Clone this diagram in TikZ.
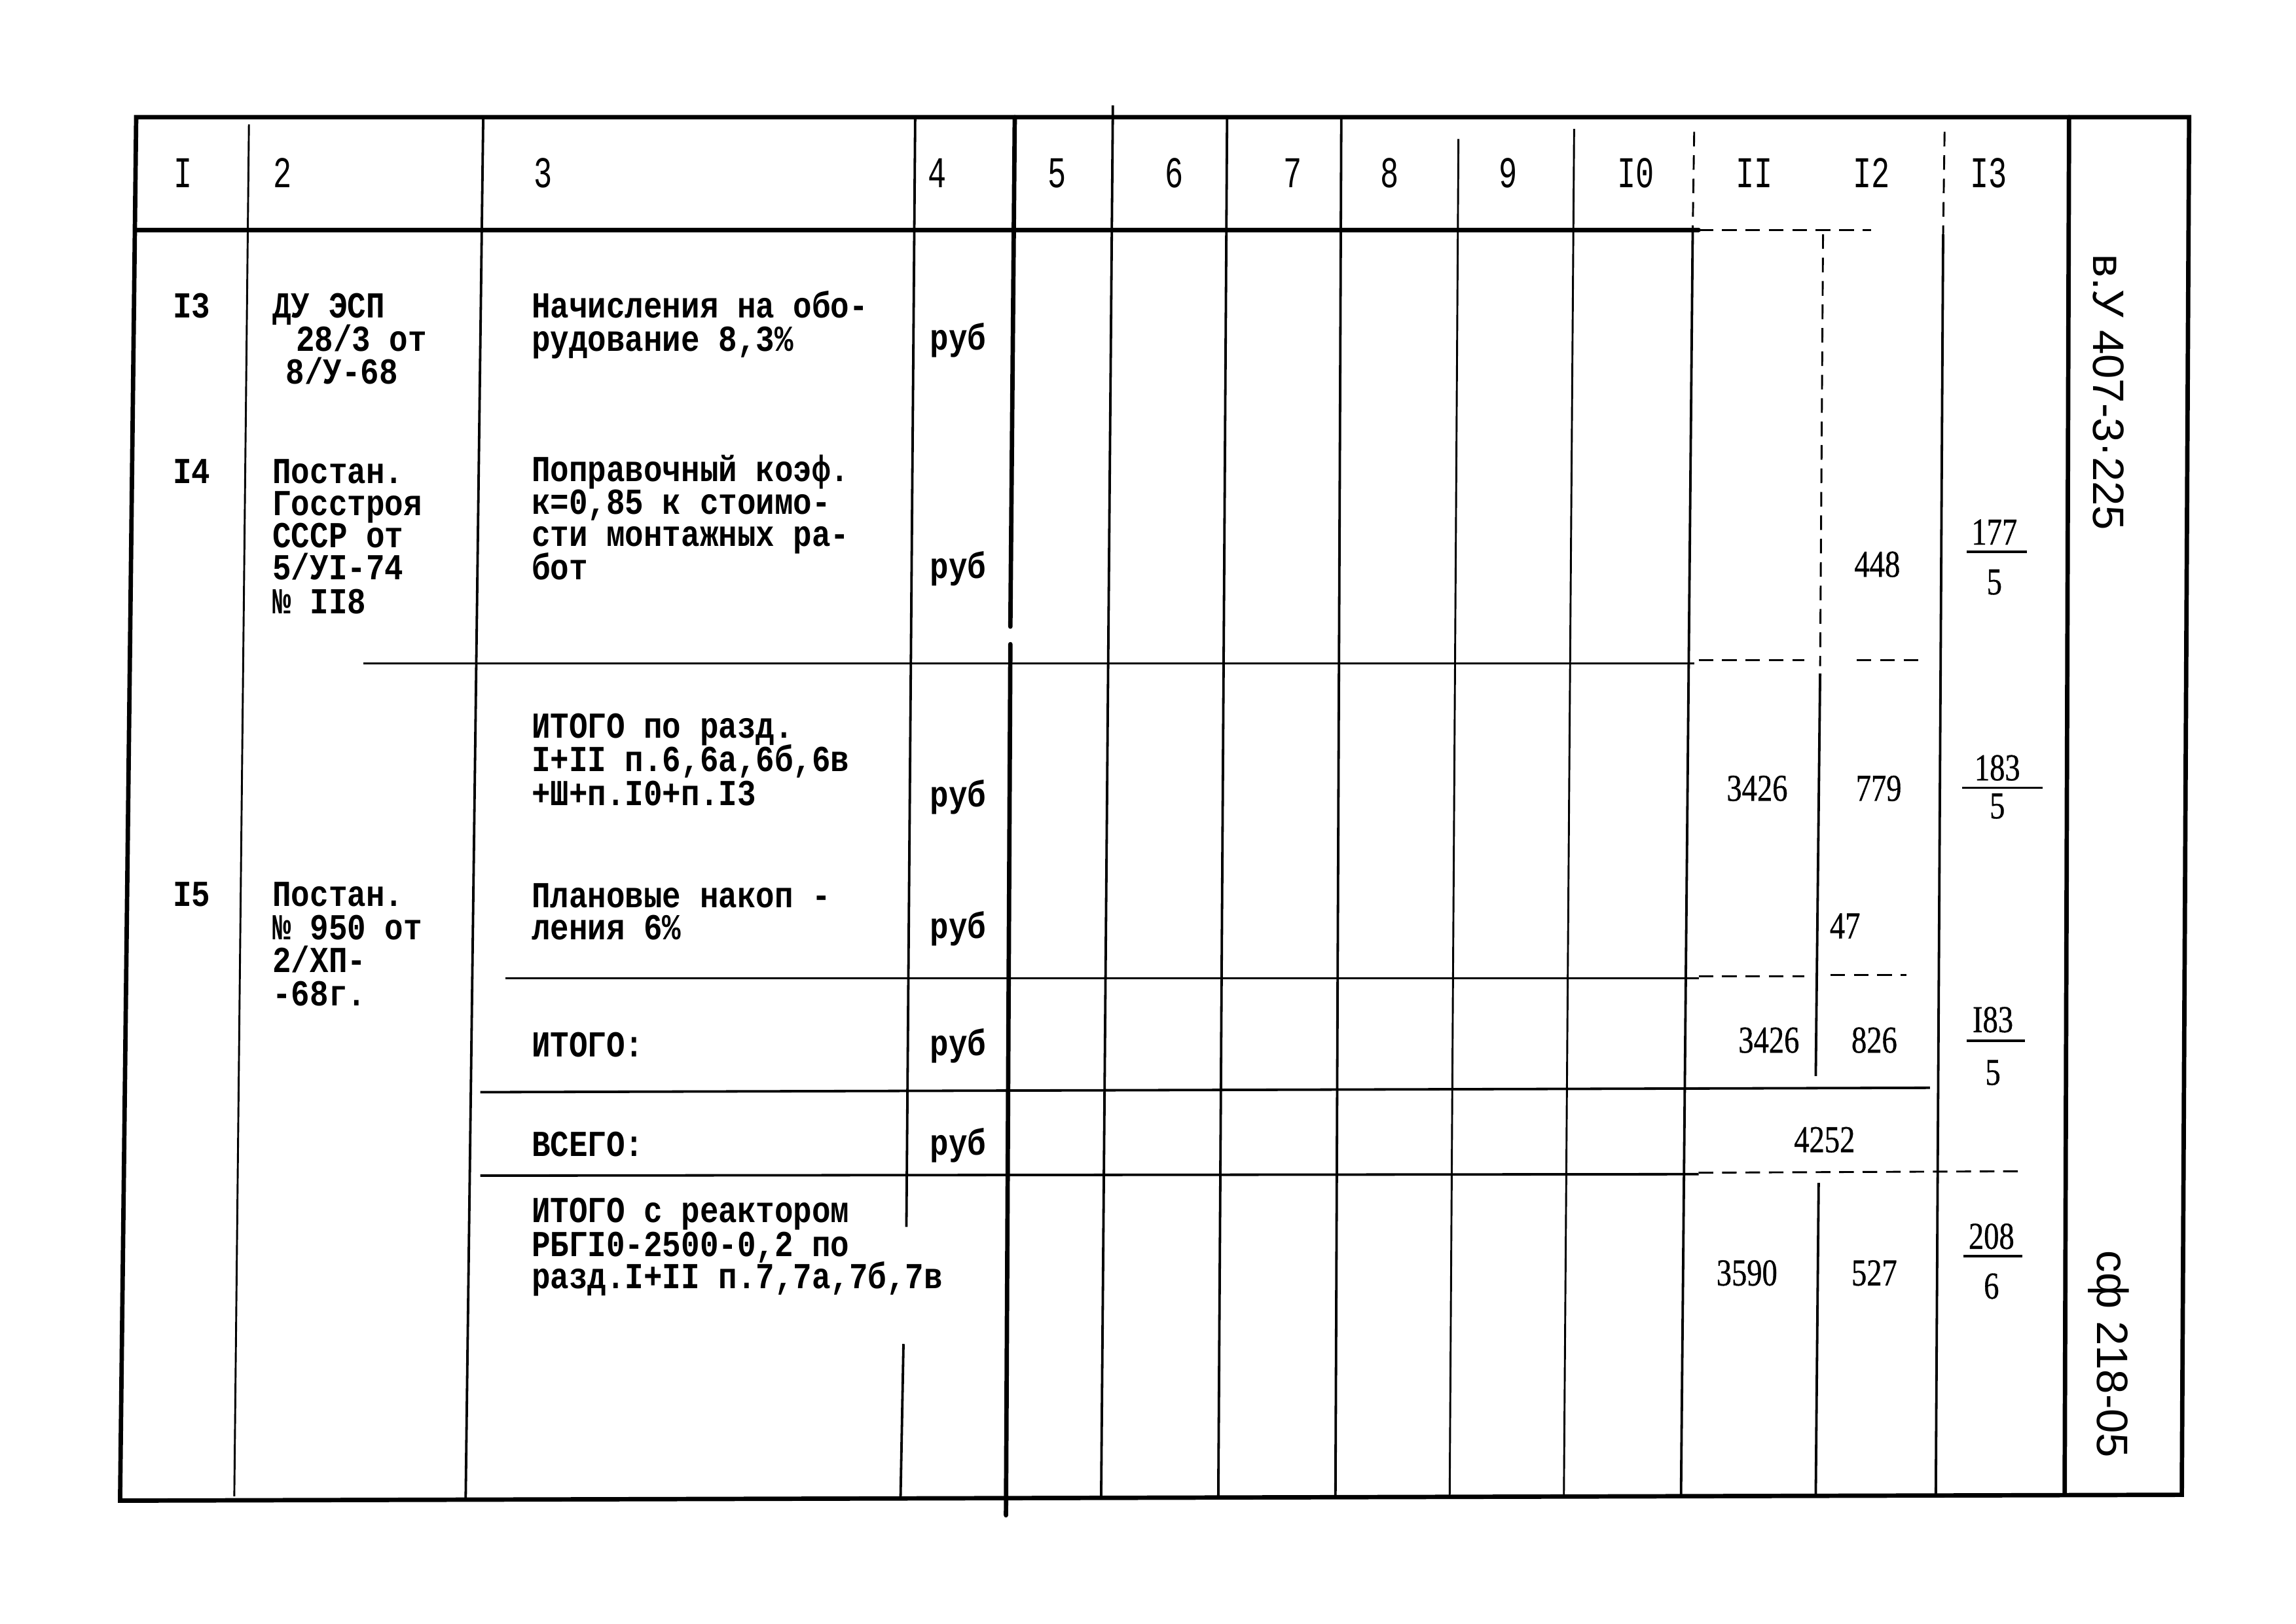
\documentclass[tikz,border=0pt]{standalone}
\usepackage{fontspec}
\newfontfamily\tw[FakeStretch=0.85]{Liberation Mono}
\newfontfamily\twh[FakeStretch=0.7]{Liberation Mono}
\newfontfamily\numf[FakeStretch=0.8,FakeBold=0.6]{Liberation Serif}
\newfontfamily\hand{Liberation Sans}
\begin{document}
\begin{tikzpicture}[x=1pt,y=-1pt,
  frameline/.style={line width=3pt, line cap=round},
  ruleline/.style={line width=1.7pt},
  thinline/.style={line width=1.3pt},
  dashline/.style={line width=1.3pt, dash pattern=on 10pt off 6pt},
  fracbar/.style={line width=1.6pt},
  hdr/.style={font=\twh\fontsize{30}{30}\selectfont, anchor=base, inner sep=0pt},
  txt/.style={font=\tw\bfseries\fontsize{25}{22}\selectfont, anchor=base west, inner sep=0pt},
  numtxt/.style={font=\numf\fontsize{26}{26}\selectfont, anchor=base, inner sep=0pt},
  sidetext/.style={font=\hand\fontsize{30}{30}\selectfont, rotate=-90, inner sep=0pt}]
\useasboundingbox (0,0) rectangle (1568,1109);
\fill[white] (0,0) rectangle (1568,1109);

% outer frame
\draw[frameline] (93,80) -- (1495,80) -- (1490,1021) -- (82,1025) -- cycle;
% header rule
\draw[frameline] (93,157) -- (1160,157);
\draw[dashline] (1160,157) -- (1278,157);

% vertical rules
\draw[thinline] (170,85) -- (160,1022);
\draw[ruleline] (330,80) -- (318,1024);
\draw[ruleline] (625,80) -- (619,838);
\draw[ruleline] (617,918) -- (615,1023);
\draw[frameline] (693,80) -- (690,428);
\draw[frameline] (690,440) -- (687,1035);
\draw[ruleline] (760,72) -- (752,1022);
\draw[ruleline] (838,80) -- (832,1022);
\draw[ruleline] (916,80) -- (912,1022);
\draw[thinline] (996,95) -- (990,1022);
\draw[thinline] (1075,88) -- (1068,1022);
\draw[dashline] (1157,90) -- (1156,157);
\draw[ruleline] (1156,157) -- (1148,1021);
\draw[dashline] (1245,160) -- (1243,455);
\draw[ruleline] (1243,460) -- (1240,735);
\draw[ruleline] (1242,808) -- (1240,1021);
\draw[dashline] (1328,90) -- (1327,160);
\draw[ruleline] (1327,160) -- (1322,1021);
\draw[frameline] (1413,80) -- (1410,1021);

% horizontal inner rules
\draw[thinline] (248,453) -- (1157,453);
\draw[dashline] (1160,451) -- (1232,451);
\draw[dashline] (1268,451) -- (1312,451);
\draw[thinline] (345,668) -- (1160,668);
\draw[dashline] (1160,667) -- (1232,667);
\draw[dashline] (1250,666) -- (1302,666);
\draw[ruleline] (328,746) -- (1318,743);
\draw[ruleline] (328,803) -- (1160,802);
\draw[dashline] (1160,801) -- (1380,800);

% header numbers
\node[hdr] (h1) at (125,128) {I};
\node[hdr] (h2) at (193,128) {2};
\node[hdr] (h3) at (371,128) {3};
\node[hdr] (h4) at (640,128) {4};
\node[hdr] (h5) at (722,128) {5};
\node[hdr] (h6) at (802,128) {6};
\node[hdr] (h7) at (883,128) {7};
\node[hdr] (h8) at (949,128) {8};
\node[hdr] (h9) at (1030,128) {9};
\node[hdr] (h10) at (1117,128) {I0};
\node[hdr] (h11) at (1198,128) {II};
\node[hdr] (h12) at (1278,128) {I2};
\node[hdr] (h13) at (1358,128) {I3};

% row 13
\node[txt] (r13n) at (118,217) {I3};
\node[txt] (r13b1) at (186,217) {ДУ ЭСП};
\node[txt] (r13b2) at (202,240) {28/3 от};
\node[txt] (r13b3) at (195,262) {8/У-68};
\node[txt] (r13c1) at (363,217) {Начисления на обо-};
\node[txt] (r13c2) at (363,240) {рудование 8,3\%};
\node[txt] (r13u) at (635,239) {руб};

% row 14
\node[txt] (r14n) at (118,330) {I4};
\node[txt] (r14b1) at (186,330) {Постан.};
\node[txt] (r14b2) at (186,352) {Госстроя};
\node[txt] (r14b3) at (186,374) {СССР от};
\node[txt] (r14b4) at (186,396) {5/УI-74};
\node[txt] (r14b5) at (186,419) {№ II8};
\node[txt] (r14c1) at (363,329) {Поправочный коэф.};
\node[txt] (r14c2) at (363,351) {к=0,85 к стоимо-};
\node[txt] (r14c3) at (363,373) {сти монтажных ра-};
\node[txt] (r14c4) at (363,396) {бот};
\node[txt] (r14u) at (635,395) {руб};
\node[numtxt] (r14v12) at (1282,394) {448};
\node[numtxt] (r14f1) at (1362,372) {177};
\draw[fracbar] (1343,377) -- (1384,377);
\node[numtxt] (r14f2) at (1362,406) {5};

% subtotal
\node[txt] (stc1) at (363,504) {ИТОГО по разд.};
\node[txt] (stc2) at (363,527) {I+II п.6,6а,6б,6в};
\node[txt] (stc3) at (363,550) {+Ш+п.I0+п.I3};
\node[txt] (stu) at (635,551) {руб};
\node[numtxt] (stv11) at (1200,547) {3426};
\node[numtxt] (stv12) at (1283,547) {779};
\node[numtxt] (stf1) at (1364,533) {183};
\draw[fracbar] (1340,538) -- (1395,538);
\node[numtxt] (stf2) at (1364,559) {5};

% row 15
\node[txt] (r15n) at (118,619) {I5};
\node[txt] (r15b1) at (186,619) {Постан.};
\node[txt] (r15b2) at (186,642) {№ 950 от};
\node[txt] (r15b3) at (186,664) {2/ХП-};
\node[txt] (r15b4) at (186,687) {-68г.};
\node[txt] (r15c1) at (363,620) {Плановые накоп -};
\node[txt] (r15c2) at (363,642) {ления 6\%};
\node[txt] (r15u) at (635,641) {руб};
\node[numtxt] (r15v12) at (1260,641) {47};

% itogo
\node[txt] (itc) at (363,722) {ИТОГО:};
\node[txt] (itu) at (635,721) {руб};
\node[numtxt] (itv11) at (1208,719) {3426};
\node[numtxt] (itv12) at (1280,719) {826};
\node[numtxt] (itf1) at (1361,705) {I83};
\draw[fracbar] (1343,711) -- (1383,711);
\node[numtxt] (itf2) at (1361,741) {5};

% vsego
\node[txt] (vsc) at (363,790) {ВСЕГО:};
\node[txt] (vsu) at (635,789) {руб};
\node[numtxt] (vsv) at (1246,787) {4252};

% itogo s reaktorom
\node[txt] (rkc1) at (363,835) {ИТОГО с реактором};
\node[txt] (rkc2) at (363,858) {РБГI0-2500-0,2 по};
\node[txt] (rkc3) at (363,880) {разд.I+II п.7,7а,7б,7в};
\node[numtxt] (rkv11) at (1193,878) {3590};
\node[numtxt] (rkv12) at (1280,878) {527};
\node[numtxt] (rkf1) at (1360,853) {208};
\draw[fracbar] (1341,858) -- (1381,858);
\node[numtxt] (rkf2) at (1360,887) {6};

% side stamps
\node[sidetext] (side1) at (1440,268) {в.У 407-3·225};
\node[sidetext] (side2) at (1440,925) {сф 218-05};
\end{tikzpicture}
\end{document}
